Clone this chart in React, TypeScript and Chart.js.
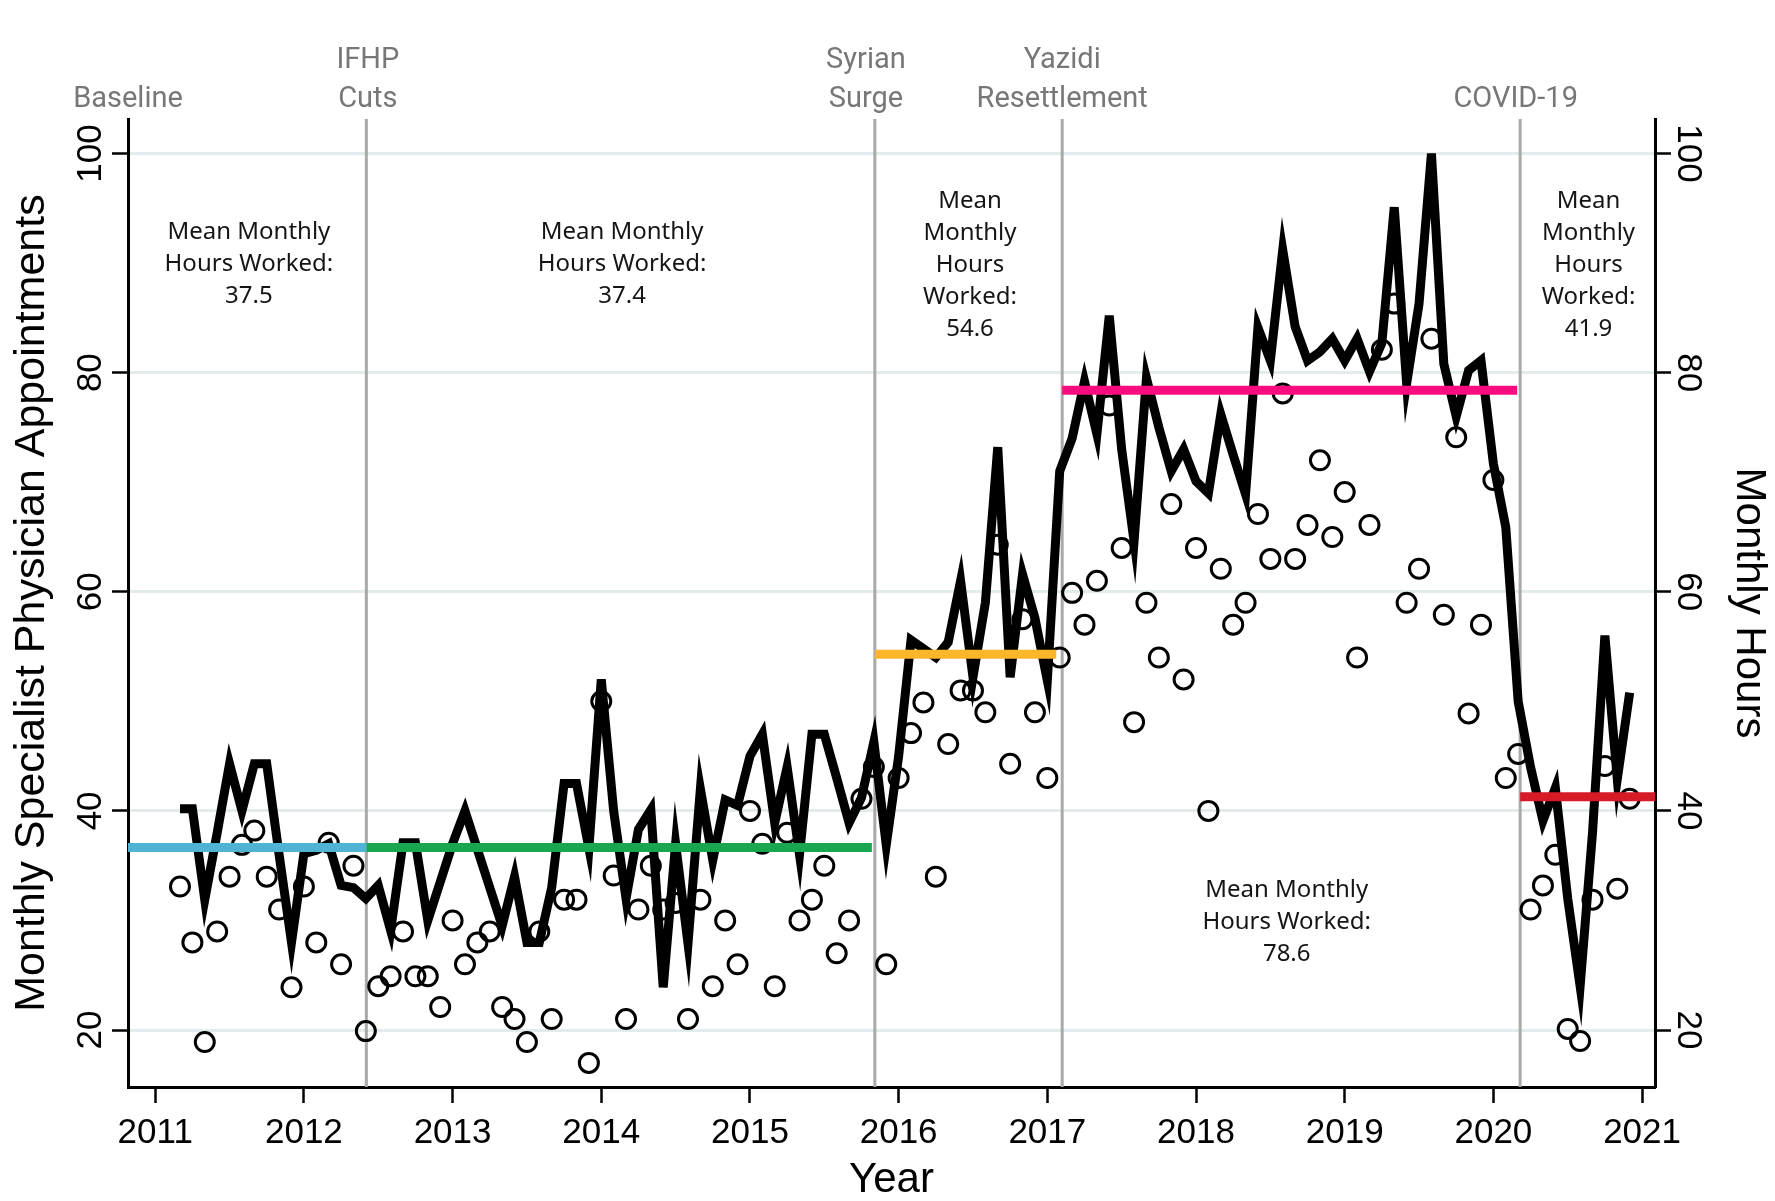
import React, { useEffect, useRef } from "react";
import { Chart, registerables } from "chart.js";

Chart.register(...registerables);

// ---------- data ----------
const FIRST_YEAR = 2011;
const FIRST_MONTH = 3; // March 2011 ... December 2020

const MONTHLY_HOURS: number[] = [
  40.2, 40.2, 31.9, 38, 44.3, 40.0, 44.3, 44.3, 36, 28.0,
  36.1, 36.4, 37, 33.2, 33.0, 32.0, 33.2, 29.1, 37.1, 37.1,
  30.0, 33.5, 37, 40, 36.5, 33, 29.5, 34, 28, 28,
  33, 42.5, 42.5, 36.6, 52, 40, 32, 38.3, 40.1, 23.9,
  37, 27.9, 42, 35.5, 41, 40.5, 45, 47, 38.9, 44,
  36, 47, 47, 43, 38.9, 41.2, 46.3, 36.9, 45, 55.6,
  54.8, 54.0, 55.4, 61.0, 52.2, 59, 73.2, 52.2, 61.6, 57.6,
  51.9, 71.0, 74, 79.2, 74.4, 85.2, 73, 64.6, 79.5, 75.0,
  71.0, 73.0, 70.1, 69.0, 76.2, 72.5, 68.9, 84.1, 81.1, 91.2,
  84.2, 81.1, 81.9, 83.1, 81.1, 83.1, 80.1, 82.7, 95.1, 79.0,
  86.3, 100, 80.8, 76.0, 80.2, 81.1, 71.7, 65.9, 50, 44,
  39.1, 42.1, 32, 24, 38, 56, 42.9, 50.8,
];

const MONTHLY_APPOINTMENTS: number[] = [
  33.1, 28.0, 18.9, 29.0, 34.0, 36.9, 38.2, 34.0, 31.0, 23.9,
  33.1, 28.0, 37.1, 26.0, 35.0, 19.9, 24.0, 24.9, 29.0, 24.9,
  24.9, 22.1, 30.0, 26.0, 28.0, 29.0, 22.1, 21.0, 18.9, 29.0,
  21.0, 31.9, 31.9, 17.0, 50.0, 34.1, 21.0, 31.0, 35.0, 31,
  31.6, 21.0, 31.9, 24.0, 30.0, 26.0, 40.0, 37.0, 24.0, 38.0,
  30.0, 31.9, 35.0, 27.0, 30.0, 41.1, 44.0, 26.0, 43.0, 47.1,
  49.9, 34.0, 46.1, 51.0, 51.0, 49.0, 64.3, 44.3, 57.5, 49.0,
  43.0, 54.0, 59.9, 57.0, 61.0, 77.0, 64.0, 48.1, 59.0, 54.0,
  68.0, 52.0, 64.0, 40.0, 62.1, 57.0, 59.0, 67.1, 63.0, 78.1,
  63.0, 66.1, 72.0, 65.0, 69.1, 54.0, 66.1, 82.1, 86.3, 59.0,
  62.1, 83.1, 57.9, 74.1, 48.9, 57.0, 70.2, 43.0, 45.2, 31.0,
  33.2, 36.0, 20.1, 19.0, 31.9, 44.1, 32.9, 41.1,
];

const YEAR_TICKS: number[] = [2011, 2012, 2013, 2014, 2015, 2016, 2017, 2018, 2019, 2020, 2021];
const VALUE_TICKS: number[] = [20, 40, 60, 80, 100];

const EVENT_DATES: number[] = [2012.42, 2015.84, 2017.1, 2020.18];
const EVENT_NAMES: string[][] = [["IFHP", "Cuts"], ["Syrian", "Surge"], ["Yazidi", "Resettlement"], ["COVID-19"]];
const BASELINE_NAME = "Baseline";

const PERIOD_STARTS: number[] = [2010.817, 2012.42, 2015.84, 2017.1, 2020.18];
const PERIOD_ENDS: number[] = [2012.42, 2015.82, 2017.06, 2020.16, 2021.087];
const PERIOD_LEVELS: number[] = [36.65, 36.65, 54.3, 78.4, 41.3];
const PERIOD_MEAN_TEXT: string[] = ["37.5", "37.4", "54.6", "78.6", "41.9"];

// ---------- layout / style ----------
const X_MIN = 2010.817;
const X_MAX = 2021.087;
const Y_MIN = 14.8;
const Y_MAX = 103.15;
const PERIOD_COLORS = ["#4fb3d4", "#1aa64f", "#fbb62a", "#fa0c80", "#d61a27"];
const PERIOD_LABEL_POS = [
  { x: 2011.63, y: 89.3, lines: ["Mean Monthly", "Hours Worked:"] },
  { x: 2014.14, y: 89.3, lines: ["Mean Monthly", "Hours Worked:"] },
  { x: 2016.48, y: 89.2, lines: ["Mean", "Monthly", "Hours", "Worked:"] },
  { x: 2018.61, y: 29.2, lines: ["Mean Monthly", "Hours Worked:"] },
  { x: 2020.64, y: 89.2, lines: ["Mean", "Monthly", "Hours", "Worked:"] },
];
const EVENT_LABEL_X = [2012.43, 2015.78, 2017.1, 2020.15];

const monthX = (i: number) => {
  const m = FIRST_MONTH - 1 + i;
  return FIRST_YEAR + Math.floor(m / 12) + (m % 12) / 12;
};

const textPlugin = {
  id: "customTexts",
  afterDraw(chart: any) {
    const ctx: CanvasRenderingContext2D = chart.ctx;
    const xs = chart.scales.x;
    const ys = chart.scales.y;
    const area = chart.chartArea;
    ctx.save();
    // x tick labels
    ctx.fillStyle = "#000";
    ctx.font = '35px "Liberation Sans", Arial, sans-serif';
    ctx.textAlign = "center";
    ctx.textBaseline = "alphabetic";
    YEAR_TICKS.forEach((v) => ctx.fillText(String(v), xs.getPixelForValue(v), area.bottom + 56));
    // y tick labels (rotated)
    ctx.textBaseline = "middle";
    VALUE_TICKS.forEach((v) => {
      const py = ys.getPixelForValue(v);
      ctx.save();
      ctx.translate(area.left - 37, py);
      ctx.rotate(-Math.PI / 2);
      ctx.fillText(String(v), 0, 0);
      ctx.restore();
      ctx.save();
      ctx.translate(area.right + 33, py);
      ctx.rotate(Math.PI / 2);
      ctx.fillText(String(v), 0, 0);
      ctx.restore();
    });
    // axis titles
    ctx.font = '42px "Liberation Sans", Arial, sans-serif';
    ctx.textBaseline = "alphabetic";
    ctx.fillText("Year", (area.left + area.right) / 2, area.bottom + 105);
    ctx.textBaseline = "middle";
    const cy = (area.top + area.bottom) / 2;
    ctx.save();
    ctx.translate(area.left - 96, cy);
    ctx.rotate(-Math.PI / 2);
    ctx.font = '43px "Liberation Sans", Arial, sans-serif';
    ctx.fillText("Monthly Specialist Physician Appointments", 0, 0);
    ctx.restore();
    ctx.save();
    ctx.translate(area.right + 94, cy);
    ctx.rotate(Math.PI / 2);
    ctx.fillText("Monthly Hours", 0, 0);
    ctx.restore();
    // event labels
    ctx.fillStyle = "#777";
    ctx.font = '29px Roboto, "Liberation Sans", sans-serif';
    ctx.textBaseline = "alphabetic";
    ctx.fillText(BASELINE_NAME, xs.getPixelForValue(X_MIN), area.top - 12);
    EVENT_NAMES.forEach((lines, i) => {
      const px = xs.getPixelForValue(EVENT_LABEL_X[i]);
      lines.forEach((t, j) => {
        const row = lines.length === 2 ? j : 1;
        ctx.fillText(t, px, area.top - 51 + row * 39);
      });
    });
    // period mean labels
    ctx.fillStyle = "#151515";
    ctx.font = '24px "Noto Sans", "Open Sans", sans-serif';
    PERIOD_LABEL_POS.forEach((p, i) => {
      const lines = [...p.lines, PERIOD_MEAN_TEXT[i]];
      const px = xs.getPixelForValue(p.x);
      const midBase = ys.getPixelForValue(p.y);
      const lh = 32;
      const first = midBase - ((lines.length - 1) / 2) * lh;
      lines.forEach((t, j) => ctx.fillText(t, px, first + j * lh));
    });
    ctx.restore();
  },
};

export default function App() {
  const ref = useRef<HTMLCanvasElement | null>(null);

  useEffect(() => {
    if (!ref.current) return;
    const hours = MONTHLY_HOURS.map((v, i) => ({ x: monthX(i), y: v }));
    const appts = MONTHLY_APPOINTMENTS.map((v, i) => ({ x: monthX(i), y: v }));

    const meanSets = PERIOD_LEVELS.map((lvl, i) => ({
      type: "line" as const,
      data: [
        { x: PERIOD_STARTS[i], y: lvl },
        { x: PERIOD_ENDS[i], y: lvl },
      ],
      borderColor: PERIOD_COLORS[i],
      borderWidth: 9,
      pointRadius: 0,
      yAxisID: "y2",
      order: 0,
    }));
    const eventSets = EVENT_DATES.map((d) => ({
      type: "line" as const,
      data: [
        { x: d, y: Y_MIN },
        { x: d, y: Y_MAX },
      ],
      borderColor: "#a9a9a9",
      borderWidth: 3,
      pointRadius: 0,
      yAxisID: "y",
      order: 5,
    }));

    const chart = new Chart(ref.current, {
      type: "line",
      data: {
        datasets: [
          ...meanSets,
          {
            type: "line",
            data: hours,
            borderColor: "#000",
            borderWidth: 9,
            borderJoinStyle: "miter",
            pointRadius: 0,
            tension: 0,
            yAxisID: "y2",
            order: 1,
          },
          {
            type: "line",
            data: appts,
            showLine: false,
            pointRadius: 9.5,
            pointBorderWidth: 3,
            pointBorderColor: "#000",
            pointBackgroundColor: "rgba(0,0,0,0)",
            borderColor: "#000",
            yAxisID: "y",
            order: 2,
          },
          ...eventSets,
        ] as any,
      },
      options: {
        animation: false,
        responsive: false,
        devicePixelRatio: 1,
        layout: { padding: { top: 119, left: 0, right: 0, bottom: 0 } },
        plugins: { legend: { display: false }, tooltip: { enabled: false } },
        scales: {
          x: {
            type: "linear",
            min: X_MIN,
            max: X_MAX,
            afterBuildTicks: (s: any) => {
              s.ticks = YEAR_TICKS.map((v) => ({ value: v }));
            },
            afterFit: (s: any) => {
              s.height = 114;
            },
            ticks: { display: false },
            grid: { drawOnChartArea: false, drawTicks: true, tickLength: 16, tickWidth: 2.5, tickColor: "#000" },
            border: { display: true, color: "#000", width: 3 },
          },
          y: {
            type: "linear",
            position: "left",
            min: Y_MIN,
            max: Y_MAX,
            afterBuildTicks: (s: any) => {
              s.ticks = VALUE_TICKS.map((v) => ({ value: v }));
            },
            afterFit: (s: any) => {
              s.width = 128;
            },
            ticks: { display: false },
            grid: { color: "#e2ecec", lineWidth: 3, drawTicks: true, tickLength: 16, tickWidth: 2.5, tickColor: "#000" },
            border: { display: true, color: "#000", width: 3 },
          },
          y2: {
            type: "linear",
            position: "right",
            min: Y_MIN,
            max: Y_MAX,
            afterBuildTicks: (s: any) => {
              s.ticks = VALUE_TICKS.map((v) => ({ value: v }));
            },
            afterFit: (s: any) => {
              s.width = 120;
            },
            ticks: { display: false },
            grid: { drawOnChartArea: false, drawTicks: true, tickLength: 16, tickWidth: 2.5, tickColor: "#000" },
            border: { display: true, color: "#000", width: 3 },
          },
        },
      } as any,
      plugins: [textPlugin],
    });
    return () => chart.destroy();
  }, []);

  return (
    <div style={{ position: "fixed", left: 0, top: 0, width: 1775, height: 1201, background: "#fff" }}>
      <canvas ref={ref} width={1775} height={1201} style={{ width: 1775, height: 1201, display: "block" }} />
    </div>
  );
}
